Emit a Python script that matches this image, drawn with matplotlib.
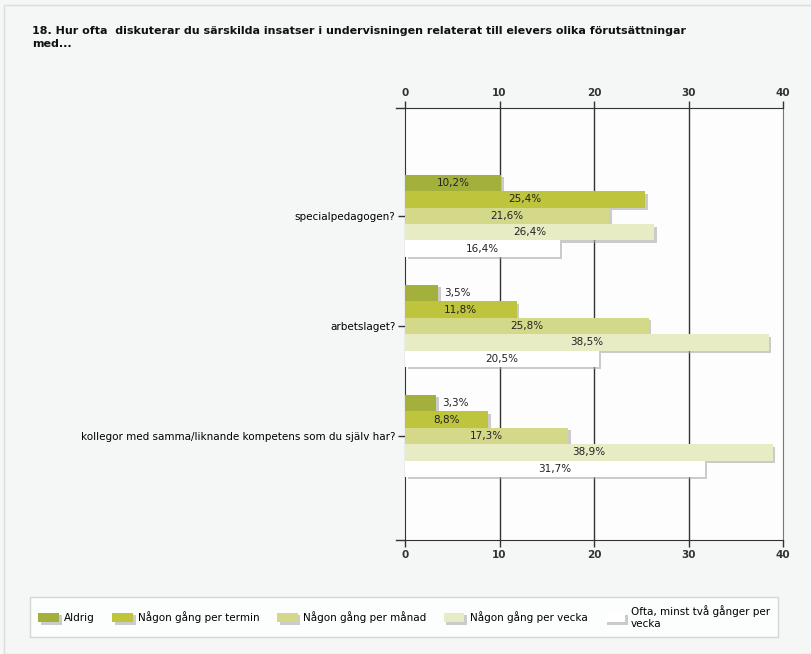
import numpy as np
import matplotlib
matplotlib.use("Agg")
import matplotlib.pyplot as plt
from matplotlib.patches import Patch, Rectangle
import matplotlib.patheffects as pe

title = "18. Hur ofta  diskuterar du särskilda insatser i undervisningen relaterat till elevers olika förutsättningar\nmed..."
categories = ["specialpedagogen?", "arbetslaget?",
              "kollegor med samma/liknande kompetens som du själv har?"]
series = ["Aldrig", "Någon gång per termin", "Någon gång per månad",
          "Någon gång per vecka", "Ofta, minst två gånger per\nvecka"]
values = [
    [10.2, 3.5, 3.3],
    [25.4, 11.8, 8.8],
    [21.6, 25.8, 17.3],
    [26.4, 38.5, 38.9],
    [16.4, 20.5, 31.7],
]
colors = ["#a3b13c", "#bec43b", "#d4d98a", "#e7ecc4", "#ffffff"]
xticks = [0, 10, 20, 30, 40]

fig = plt.figure(figsize=(8.11, 6.54), dpi=100, facecolor="#f5f6f6")
ax = fig.add_axes([405 / 811, 1 - 540 / 654, 378 / 811, 432 / 654])
ax.set_facecolor("#fdfdfd")

fig.patches.append(Rectangle((4 / 811, 0), 1, 1 - 5 / 654, transform=fig.transFigure,
                             fill=False, edgecolor="#dcdcdc", lw=1))
fig.text(32 / 811, 1 - 26 / 654, title, fontsize=8, fontweight="bold", va="top",
         ha="left", color="#111111", linespacing=1.4)

shadow = [pe.SimplePatchShadow(offset=(1.8, -1.8), shadow_rgbFace="#aaaaaa", alpha=0.6), pe.Normal()]
h = 0.149
y = np.arange(len(categories))
for i, (s, vals) in enumerate(zip(series, values)):
    pos = y + (i - 2) * h
    bars = ax.barh(pos, vals, height=h, color=colors[i], edgecolor="none", zorder=3)
    for b in bars:
        b.set_path_effects(shadow)
    for p, v in zip(pos, vals):
        lbl = f"{v:.1f}%".replace(".", ",")
        if v < 5:
            ax.text(v + 0.6, p, lbl, va="center", ha="left", fontsize=7.5, color="#222222", zorder=4)
        else:
            ax.text(v / 2, p, lbl, va="center", ha="center", fontsize=7.5, color="#222222", zorder=4)

ax.set_xlim(0, 40)
ax.set_ylim(2.945, -0.98)
ax.set_xticks(xticks)
ax.set_yticks(y)
ax.set_yticklabels(categories, fontsize=7.5)
ax.tick_params(axis="x", top=True, labeltop=True, bottom=True, labelbottom=True,
               length=5, width=1, color="#333333", labelsize=7.5, labelcolor="#333333", pad=2)
for t in ax.get_xticklabels():
    t.set_fontweight("bold")
ax.tick_params(axis="y", length=5, width=1, color="#333333", pad=2)
for xv in xticks[1:-1]:
    ax.axvline(xv, color="#333333", lw=1, zorder=1)
for side in ["left", "top", "bottom"]:
    ax.spines[side].set_color("#333333")
ax.spines["right"].set_color("#777777")
for yy in [0, 1]:
    ax.plot([-0.025, 0], [yy, yy], transform=ax.transAxes, color="#333333", lw=1, clip_on=False)

handles = [Patch(facecolor=c, edgecolor="none") for c in colors]
leg = fig.legend(handles, series, loc="upper left", ncol=5, mode="expand",
                 bbox_to_anchor=(30 / 811, 14 / 654, 748 / 811, 43 / 654),
                 fontsize=7.5, frameon=True, fancybox=False, edgecolor="#cccccc",
                 handlelength=2, handleheight=1, handletextpad=0.5, columnspacing=1.5,
                 borderaxespad=0, borderpad=0.8)
leg.get_frame().set_linewidth(1)
leg.get_frame().set_facecolor("white")
for p in leg.get_patches():
    p.set_path_effects(shadow)

fig.savefig("out.png", dpi=100, facecolor=fig.get_facecolor())
